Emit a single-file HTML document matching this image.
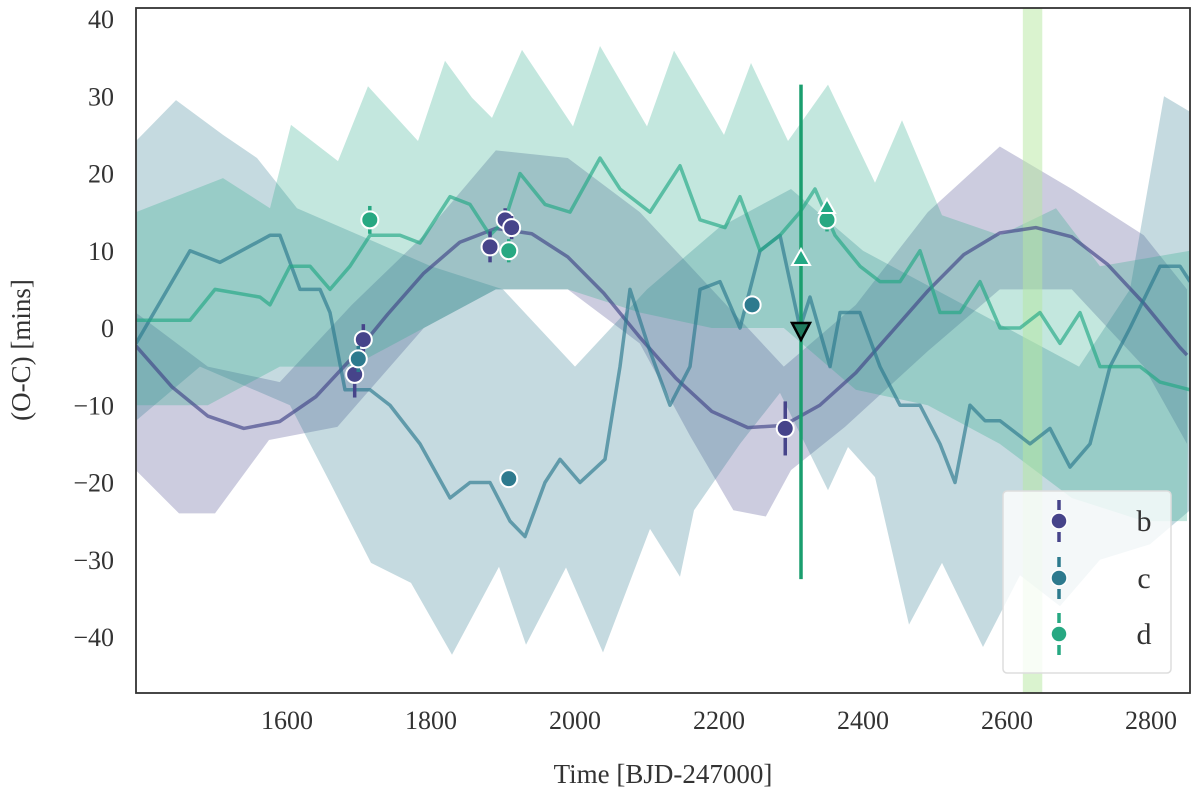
<!DOCTYPE html>
<html><head><meta charset="utf-8"><style>
html,body{margin:0;padding:0;background:#fff;width:1200px;height:800px;overflow:hidden}
svg{display:block;font-family:"Liberation Serif",serif}
</style></head><body>
<svg id="chart" width="1200" height="800"></svg>
<script>
const bandTimes=[1390,1490,1590,1690,1790,1890,1990,2090,2190,2290,2390,2490,2590,2690,2790,2850];
const bUpper=[2,-5,-7,3,12,23,22,15,5,-5,3,15,23.5,18,12,5];
const bLowerT=[1390,1450,1500,1575,1670,1790,1890,1990,2090,2160,2220,2265,2300,2375,2490,2590,2690,2790,2850];
const bLower=[-18.4,-24,-24,-14.5,-12.8,0,5,5,-2,-14,-23.6,-24.4,-18.4,-12.8,-3,5,5,-5,-15];
const cUpperPx=[136,176,223,257,297,431,503,575,647,719,791,863,935,1007,1079,1130,1164,1190];
const cUpper=[24.2,29.5,25,22,15.5,8,5,-5,5,13,18,10,5,0,-5,5,30,28];
const cLowerPx=[136,200,290,330,371,411,452,499,526,566,603,650,680,694,740,780,828,848,875,909,942,983,1020,1060,1100,1150,1190];
const cLower=[-12,-5,-10,-20,-30.4,-33,-42.3,-30.9,-41,-31,-42,-26,-32.2,-23.6,-15,-8.4,-21,-15.4,-19.3,-38.4,-30.4,-41.3,-32,-36,-30,-28,-23.6];
const dUpperPx=[136,223,270,291,338,368,418,445,472,492,522,573,600,647,674,724,751,788,828,875,902,942,1000,1056,1100,1190];
const dUpper=[15,19.4,15.5,26.3,21.6,31.3,24.2,34.6,29.8,27.2,36,26.1,36.5,26.1,35.9,25,34.3,24.2,31.5,18.8,26.9,14.6,12,15.5,8,10];
const dLower=[-10,-10,-5,-5,0,5,5,2,0,0,-8,-10,-15,-22,-25,-25];
const bTimes=[1390,1440,1490,1540,1590,1640,1690,1740,1790,1840,1890,1940,1990,2040,2090,2140,2190,2240,2290,2340,2390,2440,2490,2540,2590,2640,2690,2740,2790,2840,2850];
const bLine=[-2.3,-7.6,-11.4,-13,-12.1,-8.9,-3.9,1.8,7.1,11.1,12.9,12.2,9.2,4.5,-1.2,-6.5,-10.8,-12.9,-12.6,-10,-5.8,-0.5,4.8,9.5,12.3,13,11.8,8.2,3.2,-2.5,-3.5];
const cPx=[136,190,220,270,280,300,320,330,345,370,390,420,450,470,490,510,525,545,560,580,605,620,630,650,670,690,700,720,740,760,780,800,810,830,840,860,880,900,920,940,955,970,985,1000,1030,1050,1070,1090,1110,1130,1160,1180,1190];
const cLine=[-2,10,8.5,12,12,5,5,2,-8,-8,-10,-15,-22,-20,-20,-25,-27,-20,-17,-20,-17,-5,5,-3,-10,-5,5,6,0,10,12,0,4,-5,2,2,-5,-10,-10,-15,-20,-10,-12,-12,-15,-13,-18,-15,-5,0,8,8,6];
const dPx=[136,190,215,260,270,290,310,330,350,370,400,420,450,470,490,505,520,545,570,600,620,650,680,700,725,740,760,780,800,815,835,860,880,900,920,940,960,980,1000,1020,1040,1060,1080,1100,1120,1140,1160,1190];
const dLine=[1,1,5,4,3,8,8,5,8,12,12,11,17,16,12,14,20,16,15,22,18,15,21,14,13,17,10,12,15,18,12,8,6,6,10,2,2,6,0,0,2,-2,2,-5,-5,-5,-7,-8];
const obsB=[[1694,-6,3],[1706,-1.5,2],[1903,14,1.5],[1882,10.5,2],[1912,13,1.5],[2292,-13,3.5]];
const obsC=[[1699,-4,1.7],[1908,-19.5,0.5],[2246,3,0.5]];
const obsD=[[1715,14,1.8],[1908,10,1.5],[2350,14,1.5]];
const xTicks=[1600,1800,2000,2200,2400,2600,2800];
const yTicks=[40,30,20,10,0,-10,-20,-30,-40];

const L=136,R=1190,T=8,B=693;
const X=t=>287+(t-1600)*0.72;
const Y=v=>328-v*7.725;
const pxT=p=>1600+(p-287)/0.72;
const NS='http://www.w3.org/2000/svg';
const svg=document.getElementById('chart');
function mk(tag,attrs,parent){const e=document.createElementNS(NS,tag);for(const k in attrs)e.setAttribute(k,attrs[k]);(parent||svg).appendChild(e);return e;}
const defs=mk('defs',{});
const cp=mk('clipPath',{id:'cp'},defs);mk('rect',{x:L,y:T,width:R-L,height:B-T},cp);
const g=mk('g',{'clip-path':'url(#cp)'});


function band(upT,up,loT,lo,col,name){
  let d='M'+upT.map((t,i)=>X(t)+','+Y(up[i])).join('L');
  for(let i=loT.length-1;i>=0;i--)d+='L'+X(loT[i])+','+Y(lo[i]);
  const p=mk('path',{d:d+'Z',fill:col,'fill-opacity':0.27},g);
  
  
}
band(bandTimes,bUpper,bLowerT,bLower,'#414487','band-b');
band(cUpperPx.map(pxT),cUpper,cLowerPx.map(pxT),cLower,'#2a788e','band-c');
band(dUpperPx.map(pxT),dUpper,bandTimes,dLower,'#22a884','band-d');
const hl=mk('rect',{x:X(2622),y:T,width:X(2649)-X(2622),height:B-T,fill:'#b5e8a0','fill-opacity':0.5},g);


function line(ts,vs,col,name){
  const p=mk('polyline',{points:ts.map((t,i)=>X(t)+','+Y(vs[i])).join(' '),fill:'none',stroke:col,'stroke-width':3.5,'stroke-opacity':0.65,'stroke-linejoin':'round'},g);
  
  
}
line(bTimes,bLine,'#414487','model-line-b');
line(cPx.map(pxT),cLine,'#2a788e','model-line-c');
line(dPx.map(pxT),dLine,'#22a884','model-line-d');
const vl=mk('line',{x1:801,x2:801,y1:Y(31.5),y2:Y(-32.5),stroke:'#1a9e6e','stroke-width':3.5},g);


function pts(obs,col,name){
  obs.forEach(o=>{
    const x=X(o[0]),y=Y(o[1]);
    const e=mk('line',{x1:x,x2:x,y1:Y(o[1]+o[2]),y2:Y(o[1]-o[2]),stroke:col,'stroke-width':3.5},g);
    
    
    const c=mk('circle',{cx:x,cy:y,r:8.5,fill:col,stroke:'#fff','stroke-width':2},g);
    
    
  });
}
pts(obsB,'#46448a','b');
pts(obsC,'#2d7a8e','c');
pts(obsD,'#27a882','d');
const tu=mk('path',{d:'M801,249 L810,265 L792,265Z',fill:'#22a884',stroke:'#fff','stroke-width':2},g);


const tu2=mk('path',{d:'M827,199 L835,213 L819,213Z',fill:'#22a884',stroke:'#fff','stroke-width':2},g);


const td=mk('path',{d:'M792,323 L810,323 L801,340Z',fill:'#1f7a5e',stroke:'#000','stroke-width':2.5},g);


const fr=mk('rect',{x:L,y:T,width:R-L,height:B-T,fill:'none',stroke:'#333','stroke-width':1.8});


xTicks.forEach(t=>{
  const tx=mk('text',{x:X(t),y:729,'font-size':26,'text-anchor':'middle',fill:'#333'});tx.textContent=t;
  
  
});
yTicks.forEach(v=>{
  const tx=mk('text',{x:114,y:Y(v)+9,'font-size':26,'text-anchor':'end',fill:'#333'});tx.textContent=v<0?'\u2212'+(-v):v;
  
  
});
const xl=mk('text',{x:663,y:783,'font-size':27,'text-anchor':'middle',fill:'#333'});xl.textContent='Time [BJD-247000]';


const yl=mk('text',{x:0,y:0,'font-size':27,'text-anchor':'middle',fill:'#333',transform:'translate(30,350) rotate(-90)'});yl.textContent='(O-C) [mins]';


const lg=mk('g',{});


mk('rect',{x:1003,y:491,width:168,height:182,rx:4,fill:'#fff','fill-opacity':0.8,stroke:'#ddd','stroke-width':1.5},lg);
[['b','#46448a',521],['c','#2d7a8e',578],['d','#27a882',634]].forEach(e=>{
  const eg=mk('g',{},lg);
  
  
  mk('line',{x1:1059,x2:1059,y1:e[2]-21,y2:e[2]+21,stroke:e[1],'stroke-width':3.5,'stroke-dasharray':'10,6'},eg);
  mk('circle',{cx:1059,cy:e[2],r:8,fill:e[1],stroke:'#fff','stroke-width':1.5},eg);
  const t=mk('text',{x:1144,y:e[2]+10,'font-size':30,'text-anchor':'middle',fill:'#333'},eg);t.textContent=e[0];
});
</script>
</body></html>
